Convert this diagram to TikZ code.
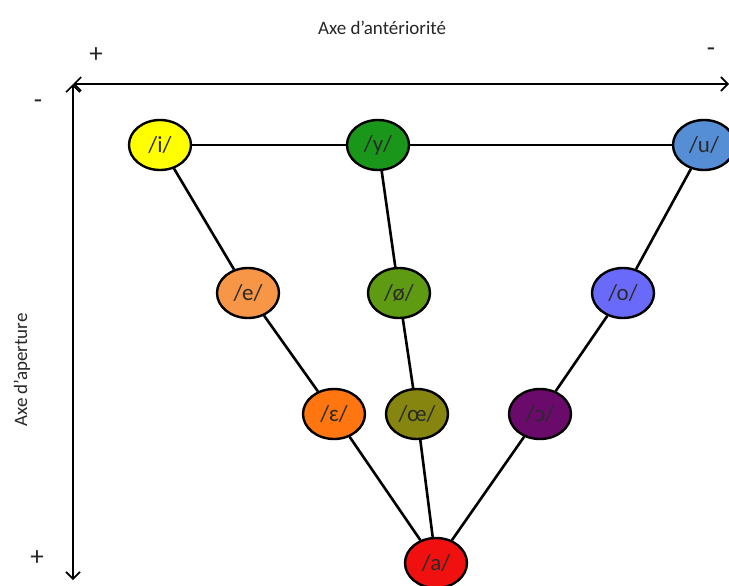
\documentclass[tikz,border=0pt]{standalone}
\usepackage{fontspec}
\setmainfont{Carlito}
\newfontfamily\ipafont{DejaVu Sans}
\usetikzlibrary{arrows.meta,shapes.geometric}
\definecolor{cI}{HTML}{FFFF00}
\definecolor{cY}{HTML}{1A961A}
\definecolor{cU}{HTML}{568ED6}
\definecolor{cE}{HTML}{F79646}
\definecolor{cOE}{HTML}{5E9A12}
\definecolor{cO}{HTML}{6A6AFA}
\definecolor{cEps}{HTML}{FF7510}
\definecolor{cCE}{HTML}{858510}
\definecolor{cOpen}{HTML}{6A0A6A}
\definecolor{cA}{HTML}{F01010}
\definecolor{txt}{HTML}{2A2A2A}
\tikzset{
  vowel/.style={ellipse, draw=black, line width=2.4pt, minimum width=62pt, minimum height=50pt, inner sep=0pt, font=\fontsize{23}{25}\selectfont, text=txt},
  link/.style={line width=2.6pt, black},
  axis/.style={line width=1.6pt, black, {Straight Barb[length=7pt,width=14pt]}-{Straight Barb[length=7pt,width=14pt]}},
  lab/.style={font=\fontsize{19}{22}\selectfont, text=black!85},
  sign/.style={font=\fontsize{27}{30}\selectfont, text=black!85}
}
\begin{document}
\begin{tikzpicture}[x=1pt,y=-1pt]
\useasboundingbox (0,0) rectangle (729,586);
% axes
\coordinate (corner) at (73,84);
\coordinate (hend) at (729,84);
\coordinate (vend) at (73,580);
\draw[axis] (corner) -- (hend);
\draw[axis] (corner) -- (vend);
\node[lab] (titleH) at (382,28) {Axe d’antériorité};
\node[sign] (plusH) at (96,55) {+};
\node[sign] (minusH) at (711,52) {-};
\node[sign] (minusV) at (38,104) {-};
\node[sign] (plusV) at (37,558) {+};
\node[lab, rotate=90] (titleV) at (22,370) {Axe d’aperture};
% vowels
\node[vowel, fill=cI] (i) at (160,145) {/i/};
\node[vowel, fill=cY] (y) at (378,145) {/y/};
\node[vowel, fill=cU] (u) at (704,145) {/u/};
\node[vowel, fill=cE] (e) at (248,293) {/e/};
\node[vowel, fill=cOE] (oe) at (399,293) {/ø/};
\node[vowel, fill=cO] (o) at (623,293) {/o/};
\node[vowel, fill=cEps] (eps) at (334,414) {/ɛ/};
\node[vowel, fill=cCE] (ce) at (417,414) {/œ/};
\node[vowel, fill=cOpen] (open) at (540,414) {/{\ipafont\fontsize{20}{22}\selectfont ɔ}/};
\node[vowel, fill=cA] (a) at (436,563) {/a/};
% links
\draw[link] (i) -- (y);
\draw[link] (y) -- (u);
\draw[link] (i) -- (e);
\draw[link] (e) -- (eps);
\draw[link] (eps) -- (a);
\draw[link] (y) -- (oe);
\draw[link] (oe) -- (ce);
\draw[link] (ce) -- (a);
\draw[link] (u) -- (o);
\draw[link] (o) -- (open);
\draw[link] (open) -- (a);
\end{tikzpicture}
\end{document}
